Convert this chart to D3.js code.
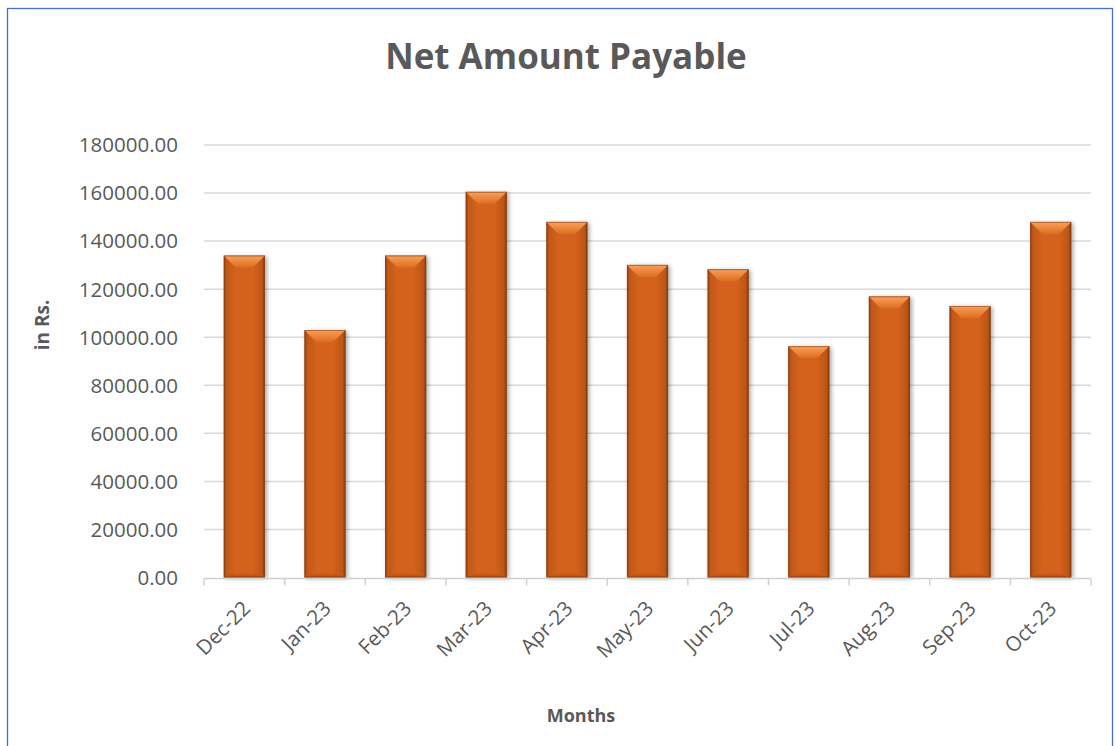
<!DOCTYPE html>
<html><head><meta charset="utf-8">
<script src="https://cdn.jsdelivr.net/npm/d3@7"></script>
<style>html,body{margin:0;padding:0;background:#fff;}svg{display:block;}</style>
</head><body>
<svg id="chart" width="1116" height="746"></svg>
<script>
const months = ["Dec-22","Jan-23","Feb-23","Mar-23","Apr-23","May-23","Jun-23","Jul-23","Aug-23","Sep-23","Oct-23"];
const netAmount = [134000,103000,134000,160500,148000,130100,128300,96300,117000,113000,148000];
const yTicks = [0,20000,40000,60000,80000,100000,120000,140000,160000,180000];
const chartTitle = "Net Amount Payable";
const xTitle = "Months";
const yTitle = "in Rs.";

const svg = d3.select("#chart");
const m = {left:204, right:1091, top:145, bottom:577.5};
const font = "'Open Sans', 'Noto Sans', sans-serif";
const txt = "#595959";

svg.append("rect").attr("x",7.5).attr("y",8.5).attr("width",1105).attr("height",800)
  .attr("fill","#fff").attr("stroke","#4472C4").attr("stroke-width",1.3);

const x = d3.scaleBand().domain(months).range([m.left,m.right]).paddingInner(0.49).paddingOuter(0.245);
const xb = d3.scaleBand().domain(months).range([m.left,m.right]);
const y = d3.scaleLinear().domain([0,180000]).range([m.bottom,m.top]);

const defs = svg.append("defs");
const g1 = defs.append("linearGradient").attr("id","barBody").attr("x1","0").attr("x2","1").attr("y1","0").attr("y2","0");
[[0,"#8e4211"],[0.07,"#c35818"],[0.3,"#d4621c"],[0.7,"#d4621c"],[0.93,"#bd5516"],[1,"#7f3a0e"]]
  .forEach(s=>g1.append("stop").attr("offset",s[0]).attr("stop-color",s[1]));
const g2 = defs.append("linearGradient").attr("id","barTop").attr("x1","0").attr("x2","0").attr("y1","0").attr("y2","1");
[[0,"#f5a262"],[0.5,"#ec873b"],[1,"#dc6d22"]].forEach(s=>g2.append("stop").attr("offset",s[0]).attr("stop-color",s[1]));
const g3 = defs.append("linearGradient").attr("id","barBot").attr("x1","0").attr("x2","0").attr("y1","0").attr("y2","1");
[[0,"#cc5e1b"],[1,"#b04e14"]].forEach(s=>g3.append("stop").attr("offset",s[0]).attr("stop-color",s[1]));
const f = defs.append("filter").attr("id","shadow").attr("x","-30%").attr("y","-10%").attr("width","160%").attr("height","130%");
f.append("feGaussianBlur").attr("stdDeviation",2.2);

// gridlines
svg.append("g").selectAll("line").data(yTicks.filter(d=>d>0)).join("line")
  .attr("x1",m.left).attr("x2",m.right).attr("y1",d=>y(d)).attr("y2",d=>y(d))
  .attr("stroke","#d9d9d9").attr("stroke-width",1.5);

// y labels
svg.append("g").selectAll("text").data(yTicks).join("text")
  .attr("x",178).attr("y",d=>y(d)).attr("dy","0.36em").attr("text-anchor","end")
  .attr("font-family",font).attr("font-size",20.5).attr("fill",txt)
  .text(d=>d3.format(".2f")(d));

// bars
const bars = svg.append("g").selectAll("g").data(months.map((mo,i)=>({mo,v:netAmount[i]}))).join("g");
bars.append("rect").attr("x",d=>x(d.mo)+2).attr("y",d=>y(d.v)+1).attr("width",x.bandwidth()).attr("height",d=>m.bottom-y(d.v))
  .attr("fill","rgba(0,0,0,0.35)").attr("filter","url(#shadow)");
bars.append("rect").attr("x",d=>x(d.mo)).attr("y",d=>y(d.v)).attr("width",x.bandwidth()).attr("height",d=>m.bottom-y(d.v))
  .attr("fill","url(#barBody)");
const bv = 12;
bars.append("path").attr("d",d=>{const x0=x(d.mo),w=x.bandwidth(),t=y(d.v);
  return `M${x0},${t}L${x0+w},${t}L${x0+w-bv},${t+bv}L${x0+bv},${t+bv}Z`;}).attr("fill","url(#barTop)");
bars.append("path").attr("d",d=>{const x0=x(d.mo),w=x.bandwidth(),b=m.bottom;
  return `M${x0},${b}L${x0+w},${b}L${x0+w-4},${b-4}L${x0+4},${b-4}Z`;}).attr("fill","url(#barBot)");
bars.append("rect").attr("x",d=>x(d.mo)+0.5).attr("y",d=>y(d.v)+0.5).attr("width",x.bandwidth()-1).attr("height",d=>m.bottom-y(d.v)-1)
  .attr("fill","none").attr("stroke","#8a3f10").attr("stroke-width",1).attr("stroke-opacity",0.6);

// x axis
svg.append("line").attr("x1",m.left).attr("x2",m.right).attr("y1",m.bottom+1).attr("y2",m.bottom+1)
  .attr("stroke","#d0d0d0").attr("stroke-width",1.5);
const bounds = months.map(mo=>xb(mo)).concat([m.right]);
svg.append("g").selectAll("line").data(bounds).join("line")
  .attr("x1",d=>d).attr("x2",d=>d).attr("y1",m.bottom+1).attr("y2",m.bottom+8)
  .attr("stroke","#d0d0d0").attr("stroke-width",1.5);

svg.append("g").selectAll("text").data(months).join("text")
  .attr("transform",d=>`translate(${xb(d)+xb.bandwidth()/2+2},${m.bottom+27}) rotate(-45)`)
  .attr("text-anchor","end").attr("dy","0.36em")
  .attr("font-family",font).attr("font-size",20.5).attr("fill",txt).text(d=>d);

// titles
svg.append("text").attr("x",566).attr("y",69).attr("text-anchor","middle")
  .attr("font-family",font).attr("font-weight","bold").attr("font-size",35).attr("fill",txt).text(chartTitle);
svg.append("text").attr("x",581).attr("y",722).attr("text-anchor","middle")
  .attr("font-family",font).attr("font-weight","bold").attr("font-size",18).attr("fill",txt).text(xTitle);
svg.append("text").attr("transform","translate(49,325) rotate(-90)").attr("text-anchor","middle")
  .attr("font-family",font).attr("font-weight","bold").attr("font-size",19).attr("fill",txt).text(yTitle);
</script>
</body></html>
